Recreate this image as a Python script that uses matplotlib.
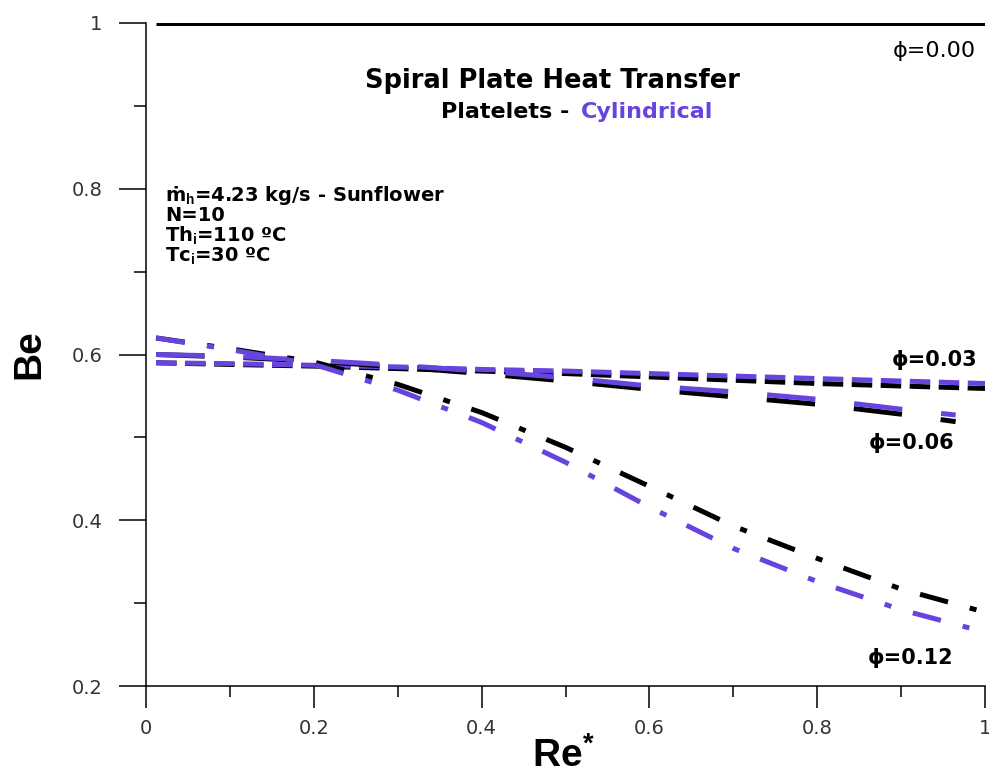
import matplotlib
matplotlib.use("Agg")
import matplotlib.pyplot as plt
from matplotlib.ticker import MultipleLocator

plt.rcParams["font.family"] = ["DejaVu Sans"]
plt.rcParams["mathtext.fontset"] = "custom"
plt.rcParams["mathtext.rm"] = "Liberation Sans:bold"
plt.rcParams["mathtext.it"] = "Liberation Sans:bold"
plt.rcParams["mathtext.bf"] = "Liberation Sans:bold"

PURPLE = "#6644dd"
ARIAL = ["Liberation Sans", "DejaVu Sans"]

# values
re_phi00 = [0.012, 1.0]
be_phi00 = [1.0, 1.0]

re_main = [0.012, 0.1, 0.2, 0.3, 0.4, 0.5, 0.6, 0.7, 0.8, 0.9, 1.0]
be_phi03_plate = [0.590, 0.588, 0.586, 0.583, 0.580, 0.577, 0.573, 0.569, 0.565, 0.562, 0.559]
be_phi03_cyl = [0.590, 0.589, 0.587, 0.585, 0.582, 0.580, 0.577, 0.574, 0.571, 0.568, 0.565]

re_phi06 = [0.012, 0.1, 0.2, 0.3, 0.4, 0.5, 0.6, 0.7, 0.8, 0.9, 0.965]
be_phi06_plate = [0.600, 0.597, 0.592, 0.585, 0.577, 0.568, 0.558, 0.549, 0.540, 0.528, 0.519]
be_phi06_cyl = [0.600, 0.598, 0.593, 0.587, 0.580, 0.572, 0.562, 0.555, 0.546, 0.534, 0.527]

be_phi12_plate = [0.620, 0.607, 0.591, 0.564, 0.530, 0.488, 0.441, 0.393, 0.354, 0.317, 0.289]
be_phi12_cyl = [0.620, 0.606, 0.588, 0.557, 0.518, 0.470, 0.416, 0.366, 0.326, 0.292, 0.265]

fig = plt.figure(figsize=(9.89, 7.74), dpi=100)
ax = fig.add_axes([146 / 989, 1 - 686 / 774, 839 / 989, 663 / 774])

lw = 3.6
ax.plot(re_phi00, be_phi00, color="black", lw=lw, solid_capstyle="butt")
ax.plot(re_main, be_phi03_plate, color="black", lw=lw, dashes=(4.1, 1.7))
ax.plot(re_main, be_phi03_cyl, color=PURPLE, lw=lw, dashes=(4.1, 1.7))
ax.plot(re_phi06, be_phi06_plate, color="black", lw=lw, dashes=(9.7, 7.8))
ax.plot(re_phi06, be_phi06_cyl, color=PURPLE, lw=lw, dashes=(9.7, 7.8))
ax.plot(re_main, be_phi12_plate, color="black", lw=lw, dashes=(5.8, 4.5, 1.4, 4.5))
ax.plot(re_main, be_phi12_cyl, color=PURPLE, lw=lw, dashes=(5.8, 4.5, 1.4, 4.5))

ax.set_xlim(0, 1)
ax.set_ylim(0.2, 1.0)
for s in ["top", "right"]:
    ax.spines[s].set_visible(False)
for s in ["left", "bottom"]:
    ax.spines[s].set_linewidth(1.1)

ax.xaxis.set_minor_locator(MultipleLocator(0.1))
ax.yaxis.set_minor_locator(MultipleLocator(0.1))
ax.set_xticks([0, 0.2, 0.4, 0.6, 0.8, 1.0], ["0", "0.2", "0.4", "0.6", "0.8", "1"])
ax.set_yticks([0.2, 0.4, 0.6, 0.8, 1.0], ["0.2", "0.4", "0.6", "0.8", "1"])
ax.tick_params(axis="x", which="major", direction="out", length=16, width=1.1, pad=8,
               labelsize=14, labelcolor="#333333")
ax.tick_params(axis="x", which="minor", direction="out", length=8, width=1.1)
ax.tick_params(axis="y", which="major", direction="out", length=19.5, width=1.1, pad=12,
               labelsize=14, labelcolor="#333333")
ax.tick_params(axis="y", which="minor", direction="out", length=9, width=1.1)

fig.text(29 / 989, 1 - 354 / 774, "Be", rotation=90, ha="center", va="center",
         fontsize=28, fontweight="bold", family=ARIAL)
fig.text(563 / 989, 1 - 767 / 774, "Re$^{*}$", ha="center", va="baseline",
         fontsize=28, fontweight="bold", family=ARIAL)

ax.text(0.485, 0.930, "Spiral Plate Heat Transfer", ha="center", va="center",
        fontsize=18.5, fontweight="bold")
ax.text(0.514, 0.893, "Platelets - ", ha="right", va="center", fontsize=16, fontweight="bold")
ax.text(0.518, 0.893, "Cylindrical", ha="left", va="center", fontsize=16, fontweight="bold",
        color=PURPLE)

info = ["ṁ$_\\mathbf{h}$=4.23 kg/s - Sunflower", "N=10", "Th$_\\mathbf{i}$=110 ºC", "Tc$_\\mathbf{i}$=30 ºC"]
info_y = [0.7916, 0.7675, 0.7446, 0.719]
for t, y in zip(info, info_y):
    ax.text(0.023, y, t, ha="left", va="center", fontsize=14, fontweight="bold")

ax.text(0.94, 0.966, "ϕ=0.00", ha="center", va="center", fontsize=16)
ax.text(0.94, 0.593, "ϕ=0.03", ha="center", va="center", fontsize=15, fontweight="bold")
ax.text(0.912, 0.493, "ϕ=0.06", ha="center", va="center", fontsize=15, fontweight="bold")
ax.text(0.911, 0.234, "ϕ=0.12", ha="center", va="center", fontsize=15, fontweight="bold")

for t in ax.texts:
    t.set_clip_on(False)

fig.savefig("out.png", dpi=100)
